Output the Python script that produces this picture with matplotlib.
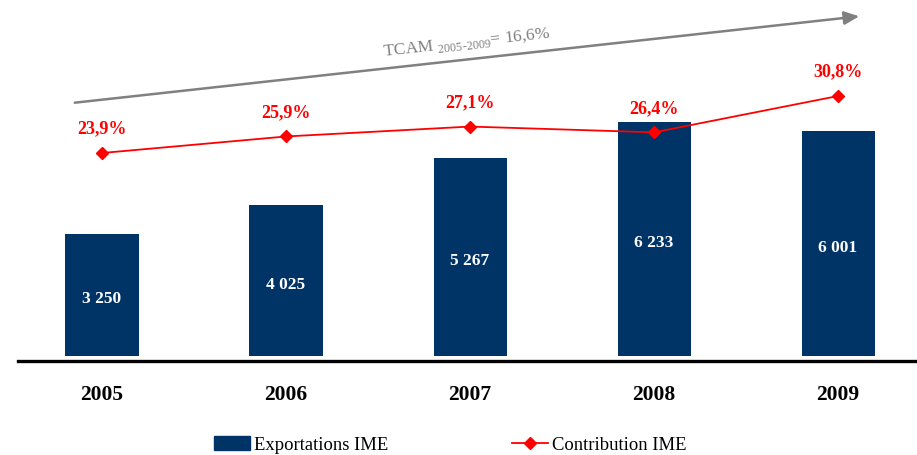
import matplotlib.pyplot as plt
import numpy as np

years = ["2005", "2006", "2007", "2008", "2009"]
exportations = [3250, 4025, 5267, 6233, 6001]
contribution = [23.9, 25.9, 27.1, 26.4, 30.8]
export_labels = ["3 250", "4 025", "5 267", "6 233", "6 001"]
contrib_labels = ["23,9%", "25,9%", "27,1%", "26,4%", "30,8%"]
tcam_text = r"TCAM $_{\text{2005-2009}}$= 16,6%"

plt.rcParams['font.family'] = ['Liberation Serif', 'DejaVu Serif']
plt.rcParams['mathtext.fontset'] = 'custom'
plt.rcParams['mathtext.rm'] = 'Liberation Serif'

navy = "#003366"
red = "#ff0000"
gray = "#808080"

fig = plt.figure(figsize=(9.17, 4.55), dpi=100)
W, H = 917, 455
# axes placed in pixel coordinates of the reference
ax = fig.add_axes([18 / W, (H - 361) / H, (917 - 18) / W, 361 / H])

x = np.arange(len(years))
ax.bar(x, exportations, width=0.397, color=navy, zorder=2)
for xi, v, lab in zip(x, exportations, export_labels):
    ax.annotate(lab, (xi, v / 2), xytext=(0, -3), textcoords="offset points",
                color="white", fontsize=12.5, fontweight="bold",
                ha="center", va="center", zorder=3)

ax.set_xlim(-0.4565, 4.429)
ax.set_ylim(-133, 9493)
ax.set_yticks([])
ax.set_xticks(x)
ax.set_xticklabels(years, fontsize=15.5, fontweight="bold")
ax.tick_params(axis="x", length=0, pad=17)
for s in ["top", "right", "left"]:
    ax.spines[s].set_visible(False)
ax.spines["bottom"].set_linewidth(2.4)
ax.patch.set_alpha(0)

ax2 = ax.twinx()
ax2.set_ylim(-1.28, 42.42)
ax2.set_axis_off()
line, = ax2.plot(x, contribution, color=red, lw=1.3, marker="D", markersize=6,
                 zorder=4)
for xi, v, lab in zip(x, contribution, contrib_labels):
    ax2.annotate(lab, (xi, v), xytext=(0, 11), textcoords="offset points",
                 color=red, fontsize=13, fontweight="bold", ha="center",
                 va="bottom")

# TCAM arrow across the top
fig.add_artist(plt.matplotlib.patches.FancyArrowPatch(
    (72 / W, 1 - 103 / H), (862 / W, 1 - 16 / H), transform=fig.transFigure,
    arrowstyle="-|>,head_length=9,head_width=4", color=gray, lw=1.8))
ang = np.degrees(np.arctan2(87, 790))
fig.text(467 / W, 1 - 43 / H, tcam_text, color=gray, fontsize=12.5,
         rotation=ang, rotation_mode="anchor", ha="center", va="center")

bar_handle = plt.matplotlib.patches.Patch(color=navy)
fig.legend([bar_handle, line], ["Exportations IME", "Contribution IME"],
           loc="center", bbox_to_anchor=(0.491, 1 - 445 / H), ncol=2,
           frameon=False, fontsize=13.4, columnspacing=6.6, handlelength=1.95,
           handletextpad=0.25, borderpad=0, borderaxespad=0)

fig.savefig("out.png", dpi=100)
